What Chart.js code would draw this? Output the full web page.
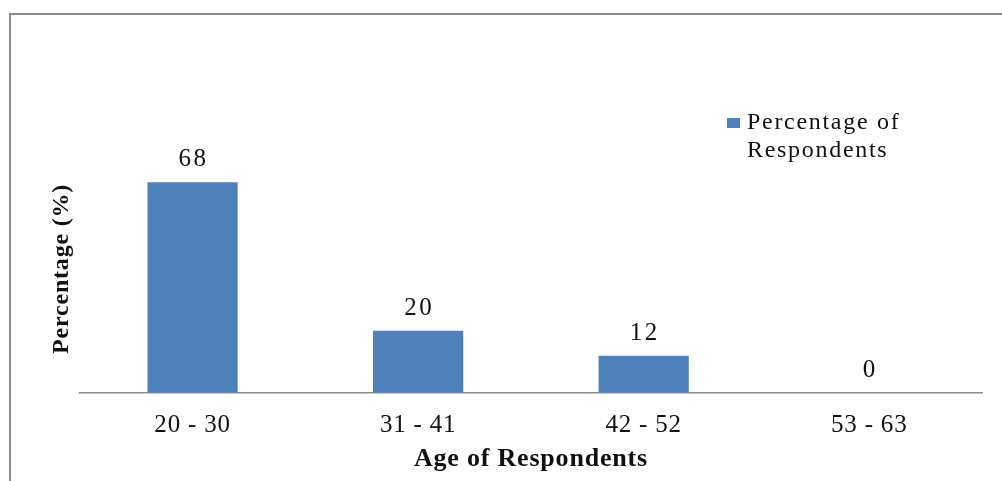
<!DOCTYPE html>
<html>
<head>
<meta charset="utf-8">
<script src="https://cdn.jsdelivr.net/npm/chart.js@4.4.1/dist/chart.umd.min.js"></script>
<style>
  html, body { margin: 0; padding: 0; background: #fff; overflow: hidden; }
  #wrap { position: relative; width: 1002px; height: 481px; }
  #frame {
    position: absolute; left: 9px; top: 13px; width: 1010px; height: 500px;
    border-left: 2px solid #8c8c8c; border-top: 2px solid #8c8c8c;
    pointer-events: none;
  }
  canvas { position: absolute; left: 0; top: 0; }
</style>
</head>
<body>
<div id="wrap">
  <canvas id="c" width="1002" height="481"></canvas>
  <div id="frame"></div>
</div>
<script>
// Age bands and share of respondents (%) in each
const ageGroups = ['20 - 30', '31 - 41', '42 - 52', '53 - 63'];
const respondentShare = [68, 20, 12, 0];
const seriesName = 'Percentage of Respondents';
const legendLines = ['Percentage of', 'Respondents'];
const yMin = 0;
const yMax = 80;

const SERIF = '"Liberation Serif", "Times New Roman", serif';
const BAR_BLUE = '#4f81bd';

// Slightly wider letter spacing for the axis text
const wideText = {
  id: 'wideText',
  beforeDraw(chart) {
    chart.ctx.letterSpacing = '0.8px';
  }
};

// Value printed above each bar
const barValueLabels = {
  id: 'barValueLabels',
  afterDatasetsDraw(chart) {
    const ctx = chart.ctx;
    const meta = chart.getDatasetMeta(0);
    const values = chart.data.datasets[0].data;
    ctx.save();
    ctx.letterSpacing = '2.5px';
    ctx.font = '25px ' + SERIF;
    ctx.fillStyle = '#111';
    ctx.textAlign = 'center';
    ctx.textBaseline = 'alphabetic';
    meta.data.forEach((bar, i) => {
      ctx.fillText(String(values[i]), bar.x + 1, bar.y - 16);
    });
    ctx.restore();
  }
};

// Legend box drawn inside the plot, upper right
const insetLegend = {
  id: 'insetLegend',
  afterDraw(chart) {
    const ctx = chart.ctx;
    const ds = chart.data.datasets[0];
    ctx.save();
    ctx.fillStyle = ds.backgroundColor;
    ctx.fillRect(727, 118, 13, 10);
    ctx.letterSpacing = '1.7px';
    ctx.font = '24px ' + SERIF;
    ctx.fillStyle = '#111';
    ctx.textAlign = 'left';
    ctx.textBaseline = 'alphabetic';
    legendLines.forEach((line, i) => {
      ctx.fillText(line, 747, 129 + i * 28);
    });
    ctx.restore();
  }
};

new Chart(document.getElementById('c'), {
  type: 'bar',
  data: {
    labels: ageGroups,
    datasets: [{
      label: seriesName,
      data: respondentShare,
      backgroundColor: BAR_BLUE,
      borderWidth: 0,
      categoryPercentage: 1.0,
      barPercentage: 0.4
    }]
  },
  options: {
    responsive: false,
    animation: false,
    devicePixelRatio: 1,
    layout: { padding: { left: 43, right: 20, top: 145, bottom: 6 } },
    plugins: {
      legend: { display: false },
      tooltip: { enabled: false },
      title: { display: false }
    },
    scales: {
      x: {
        grid: { display: false, drawTicks: false },
        border: { display: true, color: '#8c8c8c', width: 1.5 },
        ticks: {
          color: '#111',
          font: { family: SERIF, size: 25 },
          padding: 18,
          maxRotation: 0
        },
        title: {
          display: true,
          text: 'Age of Respondents',
          color: '#111',
          font: { family: SERIF, size: 26, weight: 'bold' },
          padding: { top: -15, bottom: 0 }
        }
      },
      y: {
        min: yMin,
        max: yMax,
        grid: { display: false, drawTicks: false },
        border: { display: false },
        ticks: { display: false },
        title: {
          display: true,
          text: 'Percentage (%)',
          color: '#111',
          font: { family: SERIF, size: 24, weight: 'bold' },
          padding: { top: 4, bottom: 4 }
        }
      }
    }
  },
  plugins: [wideText, barValueLabels, insetLegend]
});
</script>
</body>
</html>
